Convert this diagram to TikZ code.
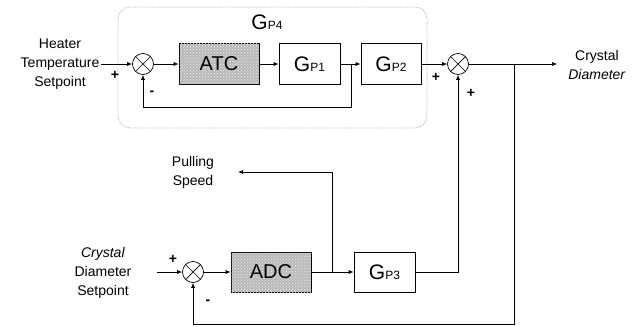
\documentclass[tikz,border=0pt]{standalone}
\usepackage{fontspec}
\setmainfont{Liberation Sans}
\usetikzlibrary{arrows.meta,patterns}
\begin{document}
\begin{tikzpicture}[x=1pt,y=-1pt,
  line width=0.7pt,
  >={Latex[length=5pt,width=4pt]},
  lbl/.style={font=\fontsize{14}{19}\selectfont, align=center, inner sep=1pt},
  sgn/.style={font=\fontsize{14}{14}\selectfont\bfseries, inner sep=0pt},
  sumnode/.style={circle, draw, minimum size=21pt, inner sep=0pt,
    path picture={\draw (path picture bounding box.north west)--(path picture bounding box.south east)
      (path picture bounding box.north east)--(path picture bounding box.south west);}},
  ctrl/.style={draw, fill=gray!55, postaction={pattern=crosshatch dots, pattern color=gray!15},
    minimum width=80pt, minimum height=41pt, inner sep=0pt, font=\fontsize{20}{20}\selectfont},
  gbox/.style={draw, fill=white, minimum width=61pt, minimum height=41pt, inner sep=0pt},
  grp/.style={draw=gray!70, densely dotted, rounded corners=12pt}
]
\useasboundingbox (0,0) rectangle (638,327);
\newcommand{\Gsub}[1]{{\fontsize{21}{21}\selectfont G}{\fontsize{12}{12}\selectfont #1}}

% group box G_P4
\draw[grp] (118,7) rectangle (427,128);
\node[inner sep=0pt] (gp4lbl) at (267,22) {\Gsub{P4}};

% top row
\node[lbl] (hts) at (60,64) {Heater\\Temperature\\Setpoint};
\node[sumnode] (s1) at (143,64) {};
\node[ctrl] (atc) at (219,64) {ATC};
\node[gbox] (gp1) at (309.5,64) {\Gsub{P1}};
\node[gbox, minimum width=60pt] (gp2) at (391,64) {\Gsub{P2}};
\node[sumnode] (s2) at (458,64) {};
\coordinate (b1) at (351,64);
\coordinate (b2) at (514,64);
\coordinate (out) at (557,64);
\node[lbl] (cd) at (597,65) {Crystal\\\textit{Diameter}};

% bottom row
\node[lbl] (cds) at (103,273) {\textit{Crystal}\\Diameter\\Setpoint};
\coordinate (in2) at (157,272);
\node[sumnode] (s3) at (193,272) {};
\node[ctrl, minimum height=40pt] (adc) at (271,272) {ADC};
\node[gbox, minimum height=40pt] (gp3) at (384.5,272) {\Gsub{P3}};
\coordinate (b3) at (332,272);
\coordinate (b3t) at (332,172);
\coordinate (ps) at (238,172);
\node[lbl] (pslbl) at (193,172) {Pulling\\Speed};
\coordinate (fb) at (514,324);

% connectors top
\draw[->] (hts.east) -- (s1.west);
\draw[->] (s1.east) -- (atc.west);
\draw[->] (atc.east) -- (gp1.west);
\draw[->] (gp1.east) -- (gp2.west);
\draw[->] (b1) -- ++(0,43) -| (s1.south);
\draw[->] (gp2.east) -- (s2.west);
\draw[->] (s2.east) -- (out);
\draw[->] (b2) -- (fb) -| (s3.south);

% connectors bottom
\draw[->] (in2) -- (s3.west);
\draw[->] (s3.east) -- (adc.west);
\draw[->] (adc.east) -- (gp3.west);
\draw[->] (b3) -- (b3t) -- (ps);
\draw[->] (gp3.east) -| (s2.south);

% signs
\node[sgn] (p1) at (115,75) {+};
\node[sgn] (m1) at (152,93) {-};
\node[sgn] (p2) at (436,77) {+};
\node[sgn] (p3) at (471,93) {+};
\node[sgn] (p4) at (173,259) {+};
\node[sgn] (m2) at (208,302) {-};
\end{tikzpicture}
\end{document}
